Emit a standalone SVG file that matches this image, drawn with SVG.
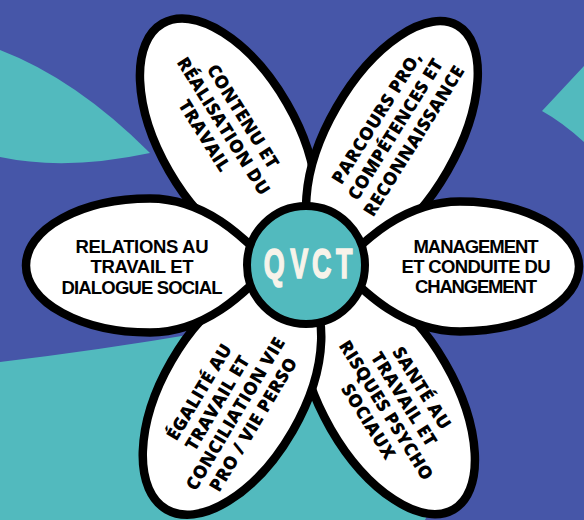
<svg xmlns="http://www.w3.org/2000/svg" width="584" height="520" viewBox="0 0 584 520">
<style>
.petal{fill:#fff;stroke:#000;stroke-width:8.5;stroke-linejoin:round}
.teal{fill:#52BABE}
.lbl{font-family:'Open Sans','Liberation Sans',sans-serif;font-weight:800;font-size:18px;fill:#000;text-anchor:middle;letter-spacing:0.4px}
.hl{font-family:'Liberation Sans Narrow','Liberation Sans',sans-serif;font-weight:700;font-size:18.5px;fill:#000;text-anchor:middle}
.core{font-family:'Liberation Sans',sans-serif;font-weight:700;font-size:42px;fill:#F7F3EA;stroke:#F7F3EA;stroke-width:1.6;text-anchor:middle}
</style>
<rect width="584" height="520" fill="#4656A8"/>
<g id="background">
<path class="teal" d="M0,50 Q76,79 150,153 Q66,171 0,157 Z"/>
<path class="teal" d="M584,66 L542,111 Q562,122 584,142 Z"/>
<path class="teal" d="M0,362 Q100,350 200,333 L250,318 L300,300 L330,300 L440,490 L425,520 L0,520 Z"/>
</g>
<g id="connectors"/>
<g id="petal-contenu">
<ellipse class="petal" transform="translate(228,137) rotate(240)" rx="131" ry="68"/>
<g class="lbl" transform="translate(224,126) rotate(58)">
<text x="2" y="-15">CONTENU ET</text>
<text x="0" y="6.6">RÉALISATION DU</text>
<text x="-2" y="28">TRAVAIL</text>
</g>
</g>
<g id="petal-parcours">
<ellipse class="petal" transform="translate(392,139) rotate(300)" rx="131" ry="64"/>
<g class="lbl" transform="translate(395,129) rotate(-58)">
<text x="0" y="-15.4">PARCOURS PRO,</text>
<text x="0" y="6.6">COMPÉTENCES ET</text>
<text x="0" y="28.6">RECONNAISSANCE</text>
</g>
</g>
<g id="petal-sante">
<ellipse class="petal" transform="translate(388,396) rotate(60)" rx="131" ry="66"/>
<g class="lbl" transform="translate(395.5,404.7) rotate(58)">
<text x="0" y="-24.9">SANTÉ AU</text>
<text x="0" y="-3.9">TRAVAIL ET</text>
<text x="0" y="17.1">RISQUES PSYCHO</text>
<text x="0" y="38.1">SOCIAUX</text>
</g>
</g>
<g id="petal-egalite">
<ellipse class="petal" transform="translate(232,396) rotate(120)" rx="131" ry="70"/>
<g class="lbl" transform="translate(226,408) rotate(-59)">
<text x="0" y="-24.9">ÉGALITÉ AU</text>
<text x="0" y="-3.9">TRAVAIL ET</text>
<text x="0" y="17.1">CONCILIATION VIE</text>
<text x="0" y="38.1">PRO / VIE PERSO</text>
</g>
</g>
<g id="petal-relations">
<path class="petal" transform="translate(150,265.5) rotate(180)" d="M-121,0 C-101,-20 -60,-67 0,-67 A124 67 0 0 1 0,67 C-60,67 -101,20 -121,0 Z"/>
<g class="hl">
<text x="142" y="252.6" textLength="133">RELATIONS AU</text>
<text x="142" y="273.3" textLength="103">TRAVAIL ET</text>
<text x="142" y="294" textLength="161">DIALOGUE SOCIAL</text>
</g>
</g>
<g id="petal-management">
<path class="petal" transform="translate(460,266.5)" d="M-121,0 C-101,-20 -60,-65 0,-65 A119 65 0 0 1 0,65 C-60,65 -101,20 -121,0 Z"/>
<g class="hl">
<text x="476" y="252.6" textLength="125">MANAGEMENT</text>
<text x="476" y="273.3" textLength="149">ET CONDUITE DU</text>
<text x="476" y="293.3" textLength="122">CHANGEMENT</text>
</g>
</g>
<g id="center-qvct">
<circle cx="306" cy="265" r="59" fill="#52BABE" stroke="#000" stroke-width="8"/>
<text class="core" transform="translate(309.5,278.3) scale(0.64,1)" x="-55.2 -16.1 19.1 54.2" y="0">QVCT</text>
</g>
</svg>
